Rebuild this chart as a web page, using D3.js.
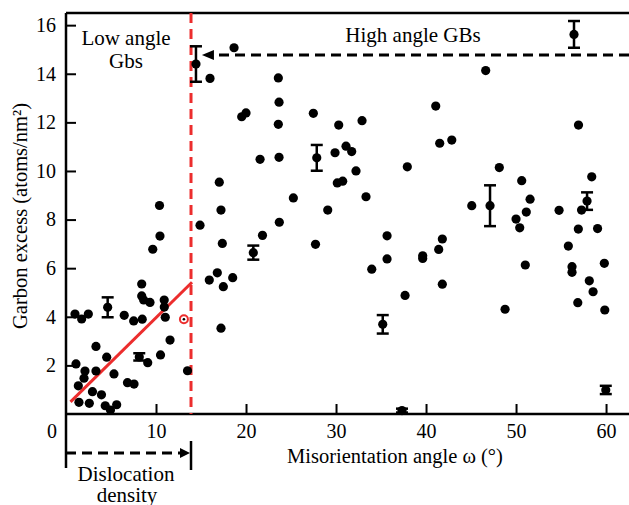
<!DOCTYPE html>
<html>
<head>
<meta charset="utf-8">
<script src="https://cdn.jsdelivr.net/npm/d3@7"></script>
<style>
  body { margin: 0; background: #fff; }
  text { font-family: "Liberation Serif", "Times New Roman", serif; fill: #000; }
</style>
</head>
<body>
<div id="chart"></div>
<script>
// scattered points: misorientation angle (deg) and carbon excess (atoms/nm2)
const angle = [
  1.0, 1.74, 2.48, 1.11, 1.37, 1.44, 2.0, 2.11, 2.59, 2.94, 3.33, 3.33, 3.94, 4.36, 4.52, 4.94, 5.63, 5.33,
  6.47, 6.83, 7.56, 7.52, 8.47, 8.41, 8.41, 8.63, 9.33, 9.08, 10.5, 10.91, 10.92, 11.03, 11.56, 13.5, 9.64, 10.44, 10.39,
  16.0, 18.67, 19.52, 20.0, 17.03, 17.22, 14.89, 17.37, 15.92, 16.81, 17.48, 18.52, 17.22,
  23.59, 23.67, 23.59, 23.67, 21.56, 25.26, 29.08, 27.48, 29.89, 30.3, 31.11, 31.74, 32.89, 32.22, 30.14, 30.74,
  33.33, 37.92, 41.08, 41.52, 42.86, 21.83, 23.7, 27.72, 35.67, 35.67, 33.97, 39.63, 39.63, 37.67, 41.81, 41.41, 41.81,
  46.63, 45.08, 48.14, 50.63, 51.56, 51.14, 50.0, 50.41, 54.78, 56.94, 58.41, 57.28, 59.06, 56.92, 55.81, 51.03,
  48.78, 56.22, 56.22, 59.81, 58.14, 58.56, 56.86, 59.86
];
const excess = [
  4.11, 3.91, 4.11, 2.06, 1.16, 0.48, 1.47, 1.77, 0.44, 0.92, 2.78, 1.77, 0.79, 0.34, 2.34, 0.16, 0.38, 1.65,
  4.06, 1.29, 1.23, 3.83, 3.9, 5.35, 4.86, 4.69, 4.59, 2.11, 2.43, 4.69, 4.4, 3.98, 3.04, 1.78, 6.78, 7.32, 8.58,
  13.81, 15.07, 12.23, 12.39, 9.54, 8.39, 7.77, 7.02, 5.51, 5.81, 5.24, 5.61, 3.53,
  13.83, 12.83, 11.92, 10.56, 10.48, 8.89, 8.39, 12.37, 10.75, 11.89, 11.02, 10.8, 12.07, 10.0, 9.51, 9.58,
  8.94, 10.17, 12.67, 11.14, 11.27, 7.35, 7.89, 6.98, 7.33, 6.38, 5.96, 6.51, 6.4, 4.88, 7.2, 6.77, 5.34,
  14.13, 8.57, 10.14, 9.6, 8.84, 8.31, 8.02, 7.66, 8.38, 11.89, 9.76, 8.39, 7.63, 7.61, 6.91, 6.13,
  4.31, 6.06, 5.83, 6.2, 5.48, 5.03, 4.58, 4.28
];

// points with error bars
const errAngle  = [4.63, 8.14, 14.44, 27.86, 20.81, 35.19, 37.33, 47.11, 57.89, 59.97, 56.44];
const errExcess = [4.39, 2.35, 14.4, 10.54, 6.64, 3.69, 0.14, 8.57, 8.76, 0.99, 15.62];
const errSize   = [0.41, 0.15, 0.73, 0.53, 0.29, 0.38, 0.08, 0.84, 0.36, 0.17, 0.55];

// linear fit over low angle boundaries, and the highlighted point
const fitAngle = [0.5, 14];
const fitExcess = [0.5, 5.42];
const markedAngle = [13.1];
const markedExcess = [3.9];

const boundary = 14;       // low / high angle limit (deg)
const arrowLevel = 14.77;  // height of the "High angle GBs" arrow

const xTicks = [10, 20, 30, 40, 50, 60];
const yTicks = [2, 4, 6, 8, 10, 12, 14, 16];

const W = 629, H = 505;
const x = d3.scaleLinear().domain([0, 62.55]).range([66, 629]);
const y = d3.scaleLinear().domain([0, 16.5]).range([414, 13]);

const svg = d3.select("#chart").append("svg").attr("width", W).attr("height", H);

// axes with inward ticks
const yAxis = svg.append("g")
  .attr("transform", `translate(${x(0)},0)`)
  .call(d3.axisLeft(y).tickValues(yTicks).tickSize(-10).tickPadding(10).tickFormat(d3.format("d")));
const xAxis = svg.append("g")
  .attr("transform", `translate(0,${y(0)})`)
  .call(d3.axisBottom(x).tickValues(xTicks).tickSize(-10).tickPadding(10).tickFormat(d3.format("d")));
[xAxis, yAxis].forEach((g) => {
  g.select(".domain").remove();
  g.selectAll(".tick line").attr("stroke", "#000").attr("stroke-width", 2);
  g.selectAll(".tick text").attr("font-size", 20).attr("font-family", "Liberation Serif");
});

svg.append("text").attr("x", x(0) - 14).attr("y", 438).attr("text-anchor", "middle")
  .attr("font-size", 20).text("0");

// frame lines
const frame = svg.append("g").attr("stroke", "#000").attr("stroke-width", 2.5);
frame.append("line").attr("x1", x(0)).attr("x2", x(0)).attr("y1", y(16.5)).attr("y2", 468);
frame.append("line").attr("x1", x(0)).attr("x2", W).attr("y1", y(16.5)).attr("y2", y(16.5));
frame.append("line").attr("x1", x(0)).attr("x2", W).attr("y1", y(0)).attr("y2", y(0));
frame.append("line").attr("x1", x(boundary) - 1).attr("x2", x(boundary) - 1).attr("y1", 441).attr("y2", 470);

// red boundary and fit
svg.append("line")
  .attr("x1", x(boundary) - 1).attr("x2", x(boundary) - 1)
  .attr("y1", y(16.5)).attr("y2", y(0))
  .attr("stroke", "#ec2d2d").attr("stroke-width", 3).attr("stroke-dasharray", "10,6");

svg.append("path")
  .datum(fitAngle.map((a, i) => [a, fitExcess[i]]))
  .attr("d", d3.line().x((d) => x(d[0])).y((d) => y(d[1])))
  .attr("stroke", "#ec2d2d").attr("stroke-width", 3).attr("fill", "none");

// dashed arrows
function arrow(x1, x2, yy, head) {
  const dir = x2 > x1 ? 1 : -1;
  svg.append("line")
    .attr("x1", x1).attr("x2", x2 - dir * head).attr("y1", yy).attr("y2", yy)
    .attr("stroke", "#000").attr("stroke-width", 3).attr("stroke-dasharray", "10,6");
  svg.append("path")
    .attr("d", `M${x2},${yy} L${x2 - dir * head},${yy - 5} L${x2 - dir * head},${yy + 5} Z`)
    .attr("fill", "#000");
}
arrow(W, x(15.1), y(arrowLevel), 12);
arrow(x(0), x(boundary) - 2, 453, 10);

// points
svg.append("g").selectAll("circle")
  .data(angle.map((a, i) => ({ a, v: excess[i] })))
  .join("circle")
  .attr("cx", (d) => x(d.a)).attr("cy", (d) => y(d.v)).attr("r", 4.6).attr("fill", "#000");

// error bar points
const eb = svg.append("g").selectAll("g")
  .data(errAngle.map((a, i) => ({ a, v: errExcess[i], e: errSize[i] })))
  .join("g").attr("stroke", "#000").attr("stroke-width", 2.5);
eb.append("line").attr("x1", (d) => x(d.a)).attr("x2", (d) => x(d.a))
  .attr("y1", (d) => y(d.v - d.e)).attr("y2", (d) => y(d.v + d.e));
eb.append("line").attr("x1", (d) => x(d.a) - 6).attr("x2", (d) => x(d.a) + 6)
  .attr("y1", (d) => y(d.v - d.e)).attr("y2", (d) => y(d.v - d.e));
eb.append("line").attr("x1", (d) => x(d.a) - 6).attr("x2", (d) => x(d.a) + 6)
  .attr("y1", (d) => y(d.v + d.e)).attr("y2", (d) => y(d.v + d.e));
eb.append("circle").attr("cx", (d) => x(d.a)).attr("cy", (d) => y(d.v)).attr("r", 4.6)
  .attr("fill", "#000").attr("stroke", "none");

// highlighted red point
svg.append("g").selectAll("g")
  .data(markedAngle.map((a, i) => ({ a, v: markedExcess[i] })))
  .join("g")
  .call((g) => {
    g.append("circle").attr("cx", (d) => x(d.a)).attr("cy", (d) => y(d.v)).attr("r", 4)
      .attr("fill", "#fff").attr("stroke", "#ec2d2d").attr("stroke-width", 2);
    g.append("circle").attr("cx", (d) => x(d.a)).attr("cy", (d) => y(d.v)).attr("r", 1.3).attr("fill", "#000");
  });

// labels
const label = (t, xx, yy, size) =>
  svg.append("text").attr("x", xx).attr("y", yy).attr("text-anchor", "middle").attr("font-size", size).text(t);
label("Low angle", 126, 45, 21);
label("Gbs", 126, 68, 21);
label("High angle GBs", 413, 42, 21);
label("Dislocation", 126, 481, 21);
label("density", 127, 502, 21);
label("Misorientation angle \u03c9 (\u00b0)", 395, 463, 20.5);

svg.append("text")
  .attr("transform", `translate(27,216) rotate(-90)`)
  .attr("text-anchor", "middle").attr("font-size", 20.5)
  .text("Garbon excess (atoms/nm\u00b2)");
</script>
</body>
</html>
